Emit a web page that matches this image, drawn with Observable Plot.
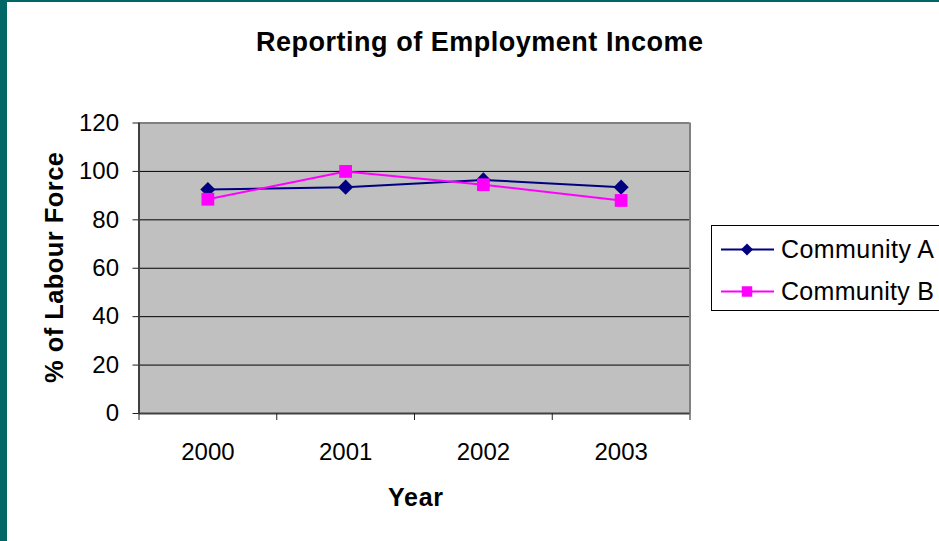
<!DOCTYPE html>
<html>
<head>
<meta charset="utf-8">
<script src="https://cdn.jsdelivr.net/npm/d3@7"></script>
<script src="https://cdn.jsdelivr.net/npm/@observablehq/plot@0.6"></script>
<style>
  html, body { margin: 0; padding: 0; }
  body { width: 939px; height: 541px; background: #006666; overflow: hidden; position: relative; }
  #paper { position: absolute; left: 7px; top: 2px; width: 932px; height: 539px; background: #ffffff; }
  #chart { position: absolute; left: 0; top: 0; }
  #chart svg { background: transparent; overflow: visible; }
</style>
</head>
<body>
<div id="paper"></div>
<div id="chart"></div>
<script>
// ---- data ----
const years = [2000, 2001, 2002, 2003];
const seriesNames = ["Community A", "Community B"];
const communityA = [92.5, 93.5, 96.5, 93.5];
const communityB = [88.5, 100, 94.5, 88];
const yTicks = [0, 20, 40, 60, 80, 100, 120];
const gridValues = [20, 40, 60, 80, 100];
const titleText = "Reporting of Employment Income";
const xLabel = "Year";
const yLabel = "% of Labour Force";
const colors = ["#000080", "#FF00FF"];
const symbols = ["diamond2", "square"];

const rows = [];
years.forEach((yr, i) => {
  rows.push({series: seriesNames[0], year: yr, value: communityA[i]});
  rows.push({series: seriesNames[1], year: yr, value: communityB[i]});
});
const rowsA = rows.filter(d => d.series === seriesNames[0]);
const rowsB = rows.filter(d => d.series === seriesNames[1]);
const boundaries = [years[0] - 0.5, ...years.map(y => y + 0.5)];

const W = 939, H = 541;
const plot = Plot.plot({
  width: W,
  height: H,
  marginLeft: 138.5,
  marginRight: 249.5,
  marginTop: 122.5,
  marginBottom: 128,
  style: {fontFamily: "'Liberation Sans', Arial, sans-serif", fontSize: "24px", color: "#000", background: "transparent"},
  x: {type: "linear", domain: [years[0] - 0.5, years[years.length - 1] + 0.5], label: null},
  y: {domain: [0, 120], label: null},
  marks: [
    Plot.frame({fill: "#C0C0C0", stroke: "none"}),
    Plot.ruleY(gridValues, {stroke: "#000", strokeWidth: 1}),
    Plot.ruleY([120], {stroke: "#808080", strokeWidth: 2}),
    Plot.ruleX([boundaries[boundaries.length - 1]], {stroke: "#808080", strokeWidth: 2}),
    Plot.ruleX([boundaries[0]], {stroke: "#404040", strokeWidth: 2}),
    Plot.ruleY([0], {stroke: "#404040", strokeWidth: 2}),
    Plot.axisY(yTicks, {tickSize: 6, tickPadding: 14, label: null, fontSize: 24, stroke: "#202020"}),
    Plot.axisX(boundaries, {tickSize: 7, tickFormat: () => "", label: null, stroke: "#202020"}),
    Plot.axisX(years, {tickSize: 0, tickPadding: 29, tickFormat: d => String(d), label: null, fontSize: 24}),
    Plot.line(rowsA, {x: "year", y: "value", stroke: colors[0], strokeWidth: 2}),
    Plot.dot(rowsA, {x: "year", y: "value", symbol: symbols[0], r: 6.8, fill: colors[0], stroke: "none"}),
    Plot.line(rowsB, {x: "year", y: "value", stroke: colors[1], strokeWidth: 2}),
    Plot.dot(rowsB, {x: "year", y: "value", symbol: symbols[1], r: 7.2, fill: colors[1], stroke: "none"})
  ]
});
document.getElementById("chart").appendChild(plot);

const svg = d3.select(plot);
const font = "'Liberation Sans', Arial, sans-serif";

// title
svg.append("text")
  .attr("x", 479.5).attr("y", 51)
  .attr("text-anchor", "middle")
  .attr("font-family", font).attr("font-weight", "bold")
  .style("font-size", "27px")
  .attr("textLength", 447)
  .attr("fill", "#000")
  .text(titleText);

// x label
svg.append("text")
  .attr("x", 415.5).attr("y", 505.5)
  .attr("text-anchor", "middle")
  .attr("font-family", font).attr("font-weight", "bold")
  .style("font-size", "25px")
  .attr("textLength", 55)
  .attr("fill", "#000")
  .text(xLabel);

// y label
svg.append("text")
  .attr("transform", "translate(63,267.5) rotate(-90)")
  .attr("text-anchor", "middle")
  .attr("font-family", font).attr("font-weight", "bold")
  .style("font-size", "25.5px")
  .attr("textLength", 231)
  .attr("fill", "#000")
  .text(yLabel);

// legend
const lg = svg.append("g");
lg.append("rect")
  .attr("x", 711.5).attr("y", 225.5).attr("width", 260).attr("height", 85)
  .attr("fill", "#fff").attr("stroke", "#000").attr("stroke-width", 1);
const rowY = [249.5, 291.5];
const legendSym = [d3.symbolDiamond2, d3.symbolSquare];
const legendSize = [Math.pow(12 / (2 * 0.62625), 2), 110];
seriesNames.forEach((name, i) => {
  lg.append("line")
    .attr("x1", 721).attr("x2", 774).attr("y1", rowY[i]).attr("y2", rowY[i])
    .attr("stroke", colors[i]).attr("stroke-width", 2);
  lg.append("path")
    .attr("d", d3.symbol(legendSym[i], legendSize[i])())
    .attr("transform", `translate(747,${rowY[i]})`)
    .attr("fill", colors[i]);
  lg.append("text")
    .attr("x", 781).attr("y", rowY[i] + 8.5)
    .attr("text-anchor", "start")
    .attr("font-family", font)
    .style("font-size", "25px")
    .attr("textLength", 153)
    .attr("fill", "#000")
    .text(name);
});
</script>
</body>
</html>
